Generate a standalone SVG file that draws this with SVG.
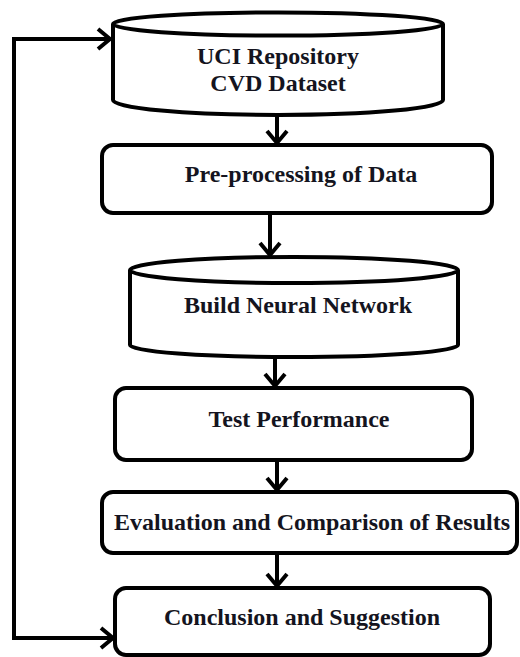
<svg xmlns="http://www.w3.org/2000/svg" width="520" height="657" viewBox="0 0 520 657">
<style>
.shape{fill:#fff;stroke:#000;stroke-width:4}
.lbl{font-family:"Liberation Serif","Times New Roman",serif;font-weight:bold;font-size:24px;fill:#141420;text-anchor:middle}
.conn{fill:none;stroke:#000;stroke-width:4}
</style>
<defs>
<marker id="ah" viewBox="0 0 14 14" refX="12" refY="7" markerWidth="14" markerHeight="14" markerUnits="userSpaceOnUse" orient="auto-start-reverse" overflow="visible">
<path d="M0,-3 L12,7 L0,17" fill="none" stroke="#000" stroke-width="4" stroke-linejoin="miter"/>
</marker>
</defs>
<rect width="520" height="657" fill="#fff"/>
<g id="n1">
<path class="shape" d="M113,24 V100 A165,15 0 0 0 443,100 V24"/>
<ellipse class="shape" cx="278" cy="24" rx="165" ry="11.5"/>
<text class="lbl" x="278" y="64">UCI Repository</text>
<text class="lbl" x="278" y="91">CVD Dataset</text>
</g>
<g id="n2">
<rect class="shape" x="102" y="145" width="390" height="68" rx="11"/>
<text class="lbl" x="301" y="182">Pre-processing of Data</text>
</g>
<g id="n3">
<path class="shape" d="M130,270 V345 A164,12 0 0 0 458,345 V270"/>
<ellipse class="shape" cx="294" cy="270" rx="164" ry="13"/>
<text class="lbl" x="298" y="313">Build Neural Network</text>
</g>
<g id="n4">
<rect class="shape" x="115" y="388" width="357" height="72" rx="11"/>
<text class="lbl" x="299" y="427">Test Performance</text>
</g>
<g id="n5">
<rect class="shape" x="102" y="492" width="415" height="61" rx="11"/>
<text class="lbl" x="312" y="530">Evaluation and Comparison of Results</text>
</g>
<g id="n6">
<rect class="shape" x="115" y="588" width="375" height="67" rx="11"/>
<text class="lbl" x="302" y="625">Conclusion and Suggestion</text>
</g>
<g id="connectors">
<path class="conn" d="M277,115 V143" marker-end="url(#ah)"/>
<path class="conn" d="M270,213 V255" marker-end="url(#ah)"/>
<path class="conn" d="M275,357 V386" marker-end="url(#ah)"/>
<path class="conn" d="M277,460 V490" marker-end="url(#ah)"/>
<path class="conn" d="M277,553 V586" marker-end="url(#ah)"/>
<path class="conn" d="M113,638 H14 V39 H110" marker-start="url(#ah)" marker-end="url(#ah)"/>
</g>
</svg>
